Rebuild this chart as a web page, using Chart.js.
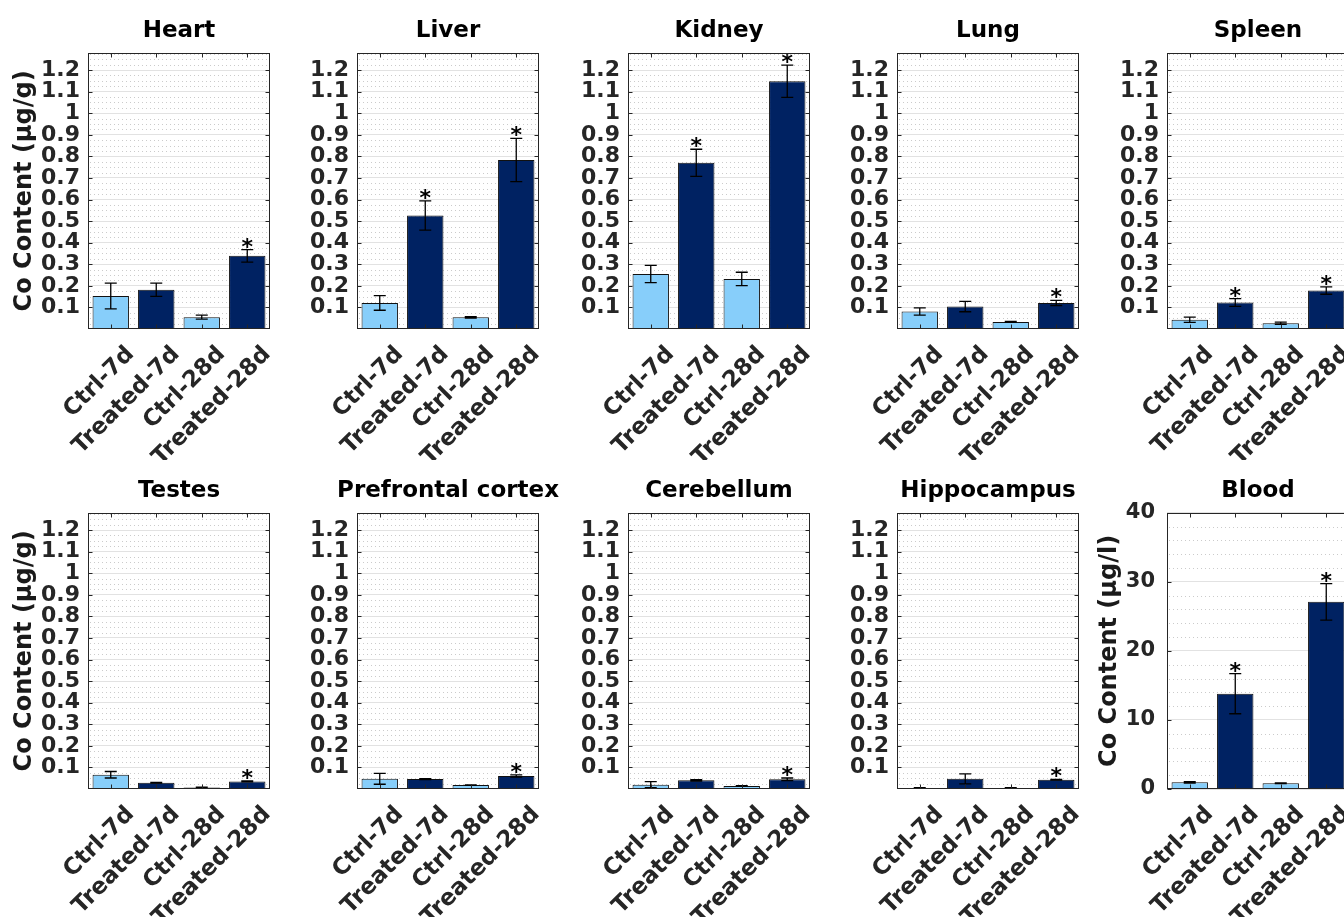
<!DOCTYPE html>
<html>
<head>
<meta charset="utf-8">
<script src="https://cdn.jsdelivr.net/npm/chart.js@4.4.1/dist/chart.umd.min.js"></script>
<style>
html, body { margin: 0; padding: 0; background: #fff; width: 1344px; height: 917px; overflow: hidden; }
canvas { position: absolute; }
</style>
</head>
<body>
<script>
// groups on the x axis
const categories = ['Ctrl-7d', 'Treated-7d', 'Ctrl-28d', 'Treated-28d'];

// mean values and error (half length of bar) per organ
const heartMean = [0.153, 0.182, 0.055, 0.339];
const heartErr = [0.060, 0.031, 0.009, 0.029];
const liverMean = [0.121, 0.526, 0.054, 0.783];
const liverErr = [0.034, 0.068, 0.003, 0.100];
const kidneyMean = [0.255, 0.770, 0.232, 1.148];
const kidneyErr = [0.040, 0.063, 0.031, 0.075];
const lungMean = [0.081, 0.104, 0.033, 0.121];
const lungErr = [0.017, 0.024, 0.002, 0.012];
const spleenMean = [0.043, 0.123, 0.027, 0.178];
const spleenErr = [0.012, 0.018, 0.005, 0.017];
const testesMean = [0.066, 0.029, 0.007, 0.035];
const testesErr = [0.015, 0.002, 0.001, 0.002];
const prefrontalMean = [0.047, 0.046, 0.018, 0.060];
const prefrontalErr = [0.025, 0.002, 0.001, 0.005];
const cerebellumMean = [0.020, 0.040, 0.014, 0.045];
const cerebellumErr = [0.014, 0.003, 0.001, 0.006];
const hippocampusMean = [0.005, 0.047, 0.005, 0.043];
const hippocampusErr = [0.001, 0.023, 0.001, 0.002];
const bloodMean = [0.97, 13.8, 0.82, 27.1];
const bloodErr = [0.10, 2.90, 0.05, 2.65];

// which bars get a significance star
const sigT28 = [false, false, false, true];
const sigBoth = [false, true, false, true];

// y axis ticks
const tissueTicks = [0.1, 0.2, 0.3, 0.4, 0.5, 0.6, 0.7, 0.8, 0.9, 1, 1.1, 1.2];
const bloodTicks = [0, 10, 20, 30, 40];

const LIGHT = '#87cefa';
const DARK = '#002262';
const FONT = 'DejaVu Sans';

const colLefts = [0, 269, 540, 809, 1079];
const rowTops = [0, 460];

const panels = [
    { title: 'Heart', mean: heartMean, err: heartErr, sig: sigT28, row: 0, col: 0, yTitle: 'Co Content (μg/g)' },
    { title: 'Liver', mean: liverMean, err: liverErr, sig: sigBoth, row: 0, col: 1 },
    { title: 'Kidney', mean: kidneyMean, err: kidneyErr, sig: sigBoth, row: 0, col: 2 },
    { title: 'Lung', mean: lungMean, err: lungErr, sig: sigT28, row: 0, col: 3 },
    { title: 'Spleen', mean: spleenMean, err: spleenErr, sig: sigBoth, row: 0, col: 4 },
    { title: 'Testes', mean: testesMean, err: testesErr, sig: sigT28, row: 1, col: 0, yTitle: 'Co Content (μg/g)' },
    { title: 'Prefrontal cortex', mean: prefrontalMean, err: prefrontalErr, sig: sigT28, row: 1, col: 1 },
    { title: 'Cerebellum', mean: cerebellumMean, err: cerebellumErr, sig: sigT28, row: 1, col: 2 },
    { title: 'Hippocampus', mean: hippocampusMean, err: hippocampusErr, sig: sigT28, row: 1, col: 3 },
    { title: 'Blood', mean: bloodMean, err: bloodErr, sig: sigBoth, row: 1, col: 4, yTitle: 'Co Content (μg/l)', blood: true },
];

function panelPlugin(p) {
    const minorStep = p.blood ? 2 : 0.025;
    const perMajor = p.blood ? 5 : 4;
    const yMax = p.blood ? 40 : 1.28;
    return {
        id: 'panel',
        beforeDatasetsDraw(chart) {
            const { ctx, chartArea: a, scales: { y } } = chart;
            ctx.save();
            ctx.strokeStyle = '#cbcbcb';
            ctx.lineWidth = 1;
            ctx.setLineDash([1, 3]);
            for (let k = 1; k * minorStep < yMax; k++) {
                if (k % perMajor === 0) continue;
                const py = Math.round(y.getPixelForValue(k * minorStep)) + 0.5;
                ctx.beginPath();
                ctx.moveTo(a.left + 2, py);
                ctx.lineTo(a.right, py);
                ctx.stroke();
            }
            ctx.restore();
        },
        afterDatasetsDraw(chart) {
            const { ctx, chartArea: a, scales: { x, y } } = chart;
            const bars = chart.getDatasetMeta(0).data;
            ctx.save();
            // error bars + stars
            ctx.strokeStyle = '#000';
            ctx.fillStyle = '#000';
            ctx.lineWidth = 1.3;
            bars.forEach((bar, i) => {
                const v = p.mean[i], e = p.err[i];
                const yt = y.getPixelForValue(v + e);
                const yb = y.getPixelForValue(Math.max(v - e, 0));
                ctx.beginPath();
                ctx.moveTo(bar.x, yt); ctx.lineTo(bar.x, yb);
                ctx.moveTo(bar.x - 6, yt); ctx.lineTo(bar.x + 6, yt);
                ctx.moveTo(bar.x - 6, yb); ctx.lineTo(bar.x + 6, yb);
                ctx.stroke();
                if (p.sig[i]) {
                    ctx.font = 'bold 22px ' + FONT;
                    ctx.textAlign = 'center';
                    ctx.textBaseline = 'alphabetic';
                    ctx.fillText('*', bar.x, yt + 4);
                }
            });
            // axes box and tick marks
            ctx.strokeStyle = '#262626';
            ctx.lineWidth = 1;
            const L = Math.round(a.left) + 0.5, R = Math.round(a.right) - 0.5;
            const T = Math.round(a.top) + 0.5, B = Math.round(a.bottom) - 0.5;
            ctx.strokeRect(L, T, R - L, B - T);
            ctx.beginPath();
            y.ticks.forEach(t => {
                const py = Math.round(y.getPixelForValue(t.value)) + 0.5;
                ctx.moveTo(L, py); ctx.lineTo(L + 4, py);
                ctx.moveTo(R, py); ctx.lineTo(R - 4, py);
            });
            x.ticks.forEach((t, i) => {
                const px = Math.round(x.getPixelForTick(i)) + 0.5;
                ctx.moveTo(px, B); ctx.lineTo(px, B - 4);
                ctx.moveTo(px, T); ctx.lineTo(px, T + 4);
            });
            ctx.stroke();
            // panel title
            ctx.fillStyle = '#000';
            ctx.font = 'bold 23px ' + FONT;
            ctx.textAlign = 'center';
            ctx.textBaseline = 'middle';
            ctx.fillText(p.title, (a.left + a.right) / 2, 31);
            ctx.restore();
        }
    };
}

panels.forEach(p => {
    const canvas = document.createElement('canvas');
    canvas.width = 310;
    canvas.height = 460;
    canvas.style.left = colLefts[p.col] + 'px';
    canvas.style.top = rowTops[p.row] + 'px';
    canvas.style.width = '310px';
    canvas.style.height = '460px';
    document.body.appendChild(canvas);

    const yTicks = p.blood ? bloodTicks : tissueTicks;

    new Chart(canvas, {
        type: 'bar',
        data: {
            labels: categories,
            datasets: [{
                data: p.mean,
                backgroundColor: [LIGHT, DARK, LIGHT, DARK],
                borderColor: '#111',
                borderWidth: 1,
                barPercentage: 0.8,
                categoryPercentage: 1,
            }]
        },
        options: {
            responsive: false,
            animation: false,
            devicePixelRatio: 1,
            layout: { padding: { top: 52.8, right: 40, left: 0, bottom: 0 } },
            plugins: {
                legend: { display: false },
                title: { display: false },
                tooltip: { enabled: false },
            },
            scales: {
                x: {
                    grid: { display: false },
                    border: { display: false },
                    ticks: {
                        autoSkip: false,
                        maxRotation: 45,
                        minRotation: 45,
                        padding: 4,
                        labelOffset: 20,
                        color: '#262626',
                        font: { family: FONT, weight: 'bold', size: 23 },
                    },
                    afterFit: s => { s.height = 131; s.paddingLeft = 0; s.paddingRight = 0; },
                },
                y: {
                    min: 0,
                    max: p.blood ? 40 : 1.28,
                    afterBuildTicks: s => { s.ticks = yTicks.map(v => ({ value: v })); },
                    grid: { color: '#e2e2e2', lineWidth: 1, drawTicks: false },
                    border: { display: false },
                    ticks: {
                        autoSkip: false,
                        padding: p.blood ? 12 : 8,
                        color: '#262626',
                        font: { family: FONT, weight: 'bold', size: p.blood ? 21 : 22 },
                        callback: v => String(v),
                    },
                    title: {
                        display: !!p.yTitle,
                        text: p.yTitle || '',
                        color: '#1a1a1a',
                        font: { family: FONT, weight: 'bold', size: 24 },
                        padding: { top: p.blood ? 16.5 : 10.5, bottom: 0 },
                    },
                    afterFit: s => { s.width = 88; s.paddingTop = 0; s.paddingBottom = 0; },
                }
            }
        },
        plugins: [panelPlugin(p)]
    });
});
</script>
</body>
</html>
